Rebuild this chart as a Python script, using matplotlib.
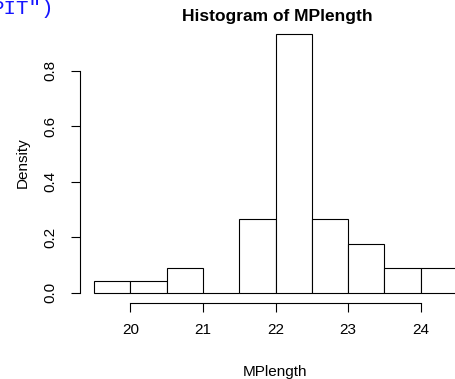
import numpy as np
import matplotlib
matplotlib.use('Agg')
import matplotlib.pyplot as plt

# histogram of MPlength: bin edges and counts per bin
bin_edges = [19.5, 20.0, 20.5, 21.0, 21.5, 22.0, 22.5, 23.0, 23.5, 24.0, 24.5]
counts = [1, 1, 2, 0, 6, 21, 6, 4, 2, 2]
x_ticks = [20, 21, 22, 23, 24]
y_ticks = [0.0, 0.2, 0.4, 0.6, 0.8]

W, H = 455, 379
plt.rcParams['font.family'] = ['Liberation Sans', 'DejaVu Sans']


def px(x, y):
    # pixel position -> figure fraction
    return x / W, 1 - y / H


def plotHistogram(figName):
    fig = plt.figure(figsize=(W / 100, H / 100), dpi=100)
    left, top = px(79.5, 23.3)
    right, bottom = px(471.6, 303.3)
    ax = fig.add_axes([left, bottom, right - left, top - bottom])

    mids = [(a + b) / 2 for a, b in zip(bin_edges[:-1], bin_edges[1:])]
    ax.hist(mids, bins=bin_edges, weights=counts, density=True,
            facecolor='white', edgecolor='black', linewidth=0.8)

    # R style extents: 4% padding
    xr = bin_edges[-1] - bin_edges[0]
    ax.set_xlim(bin_edges[0] - 0.04 * xr, bin_edges[-1] + 0.04 * xr)
    ymax = max(counts) / (sum(counts) * 0.5)
    ax.set_ylim(-0.04 * ymax, ymax * 1.04)

    for s in ['top', 'right']:
        ax.spines[s].set_visible(False)
    ax.spines['left'].set_bounds(y_ticks[0], y_ticks[-1])
    ax.spines['bottom'].set_bounds(x_ticks[0], x_ticks[-1])
    ax.spines['left'].set_linewidth(0.8)
    ax.spines['bottom'].set_linewidth(0.8)

    ax.set_xticks(x_ticks)
    ax.set_xticklabels([str(t) for t in x_ticks])
    ax.set_yticks(y_ticks)
    ax.set_yticklabels(['%.1f' % t for t in y_ticks], rotation=90, va='center')
    ax.tick_params(axis='both', direction='out', length=6.5, width=0.8, labelsize=11)
    ax.tick_params(axis='x', pad=8)
    ax.tick_params(axis='y', pad=9.5)

    fig.text(*px(275.5, 372), 'MPlength', ha='center', va='center', fontsize=11)
    fig.text(*px(23, 163), 'Density', ha='center', va='center', rotation=90, fontsize=11)
    fig.text(*px(277, 16), 'Histogram of MPlength', ha='center', va='center',
             fontsize=12.5, fontweight='bold')

    # leftover code text clipped at top-left corner
    fig.text(*px(54, 9), 'PIT")', ha='right', va='center', fontsize=15,
             family='Liberation Mono', color='#1515ff')

    plt.savefig(figName, dpi=100)


plotHistogram('out.png')
